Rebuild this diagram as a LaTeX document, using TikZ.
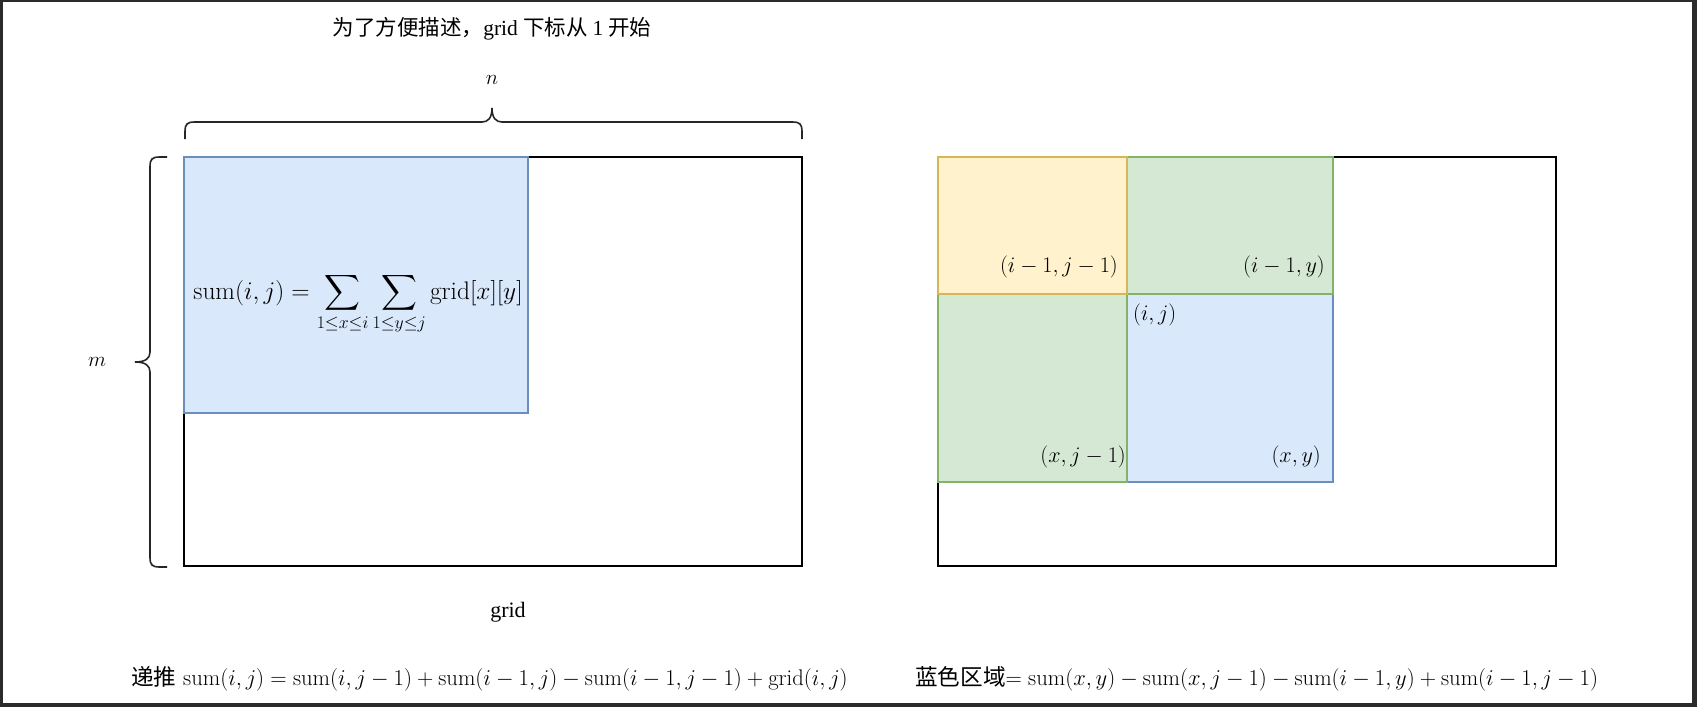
\RequirePackage{fix-cm}
\documentclass[tikz,border=0pt]{standalone}
\usepackage{fontspec}
\usepackage{amsmath}
\newfontfamily\cjk{Noto Sans CJK SC}
\newfontfamily\tnr{Liberation Serif}
\definecolor{framec}{HTML}{2B2B2B}
\definecolor{bluefill}{HTML}{DAE8FC}
\definecolor{bluedraw}{HTML}{6C8EBF}
\definecolor{greenfill}{HTML}{D5E8D4}
\definecolor{greendraw}{HTML}{82B366}
\definecolor{yellowfill}{HTML}{FFF2CC}
\definecolor{yellowdraw}{HTML}{D6B656}
\tikzset{
  gridbox/.style={draw=black, line width=1.4pt},
  bluebox/.style={fill=bluefill, draw=bluedraw, line width=1.4pt},
  greenbox/.style={fill=greenfill, draw=greendraw, line width=1.4pt},
  yellowbox/.style={fill=yellowfill, draw=yellowdraw, line width=1.4pt},
  bracec/.style={draw=black!85, line width=1.6pt},
  lbl/.style={inner sep=0pt, font=\fontsize{22.2}{26}\selectfont},
  btm/.style={inner sep=0pt, font=\fontsize{22.6}{27}\selectfont},
}
\begin{document}
\begin{tikzpicture}[x=1pt,y=-1pt]
\useasboundingbox (0,0) rectangle (1697,707);
\fill[framec] (0,0) rectangle (1697,707);
\fill[white] (3,2) rectangle (1692,703);

% title
\node[inner sep=0pt, anchor=center] (title) at (492,29)
  {\fontsize{21.5}{26}\selectfont\cjk 为了方便描述，{\tnr grid }下标从 {\tnr 1} 开始};

% left grid
\draw[gridbox] (184,157) rectangle (802,566);
\draw[bluebox] (184,157) rectangle (528,413);
\node[inner sep=0pt, anchor=base, font=\fontsize{25.4}{30}\selectfont] (sumdef) at (358,299)
  {$\displaystyle \mathrm{sum}(i,j)=\sum_{1\le x\le i}\sum_{1\le y\le j}\mathrm{grid}[x][y]$};

% braces
\draw[bracec] (185,139) -- (185,132) .. controls (185,124) and (187,122) .. (195,122)
  -- (482,122) .. controls (488,122) and (492,118) .. (492,108)
  .. controls (492,118) and (496,122) .. (502,122) -- (792,122)
  .. controls (800,122) and (802,124) .. (802,132) -- (802,139);
\draw[bracec] (167,157) -- (160,157) .. controls (152,157) and (150,159) .. (150,167)
  -- (150,352) .. controls (150,358) and (146,362) .. (135,362)
  .. controls (146,362) and (150,366) .. (150,372) -- (150,557)
  .. controls (150,565) and (152,567) .. (160,567) -- (167,567);
\node[inner sep=0pt, font=\fontsize{21}{25}\selectfont] (n) at (492,80) {$n$};
\node[inner sep=0pt, font=\fontsize{21}{25}\selectfont] (m) at (97,362) {$m$};
\node[inner sep=0pt, font=\fontsize{22}{26}\selectfont\tnr] (gridlbl) at (508,612) {grid};

% right grid
\draw[gridbox] (938,157) rectangle (1556,566);
\draw[bluebox] (1127,294) rectangle (1333,482);
\draw[greenbox] (1127,157) rectangle (1333,294);
\draw[greenbox] (938,294) rectangle (1127,482);
\draw[yellowbox] (938,157) rectangle (1127,294);

\node[lbl, anchor=base east] (a) at (1118,272) {$(i-1,j-1)$};
\node[lbl, anchor=base east] (b) at (1325,272) {$(i-1,y)$};
\node[lbl, anchor=base west] (c) at (1133,320) {$(i,j)$};
\node[lbl, anchor=base east] (d) at (1126,462) {$(x,j-1)$};
\node[lbl, anchor=base east] (e) at (1321,462) {$(x,y)$};

% bottom formulas
\node[btm, anchor=base west] (rec) at (131,685)
  {{\cjk 递推} $\mathrm{sum}(i,j)=\mathrm{sum}(i,j-1)+\mathrm{sum}(i-1,j)-\mathrm{sum}(i-1,j-1)+\mathrm{grid}(i,j)$};
\node[btm, anchor=base west] (area) at (915,685)
  {{\cjk 蓝色区域}$=\mathrm{sum}(x,y)-\mathrm{sum}(x,j-1)-\mathrm{sum}(i-1,y)+\mathrm{sum}(i-1,j-1)$};
\end{tikzpicture}
\end{document}
